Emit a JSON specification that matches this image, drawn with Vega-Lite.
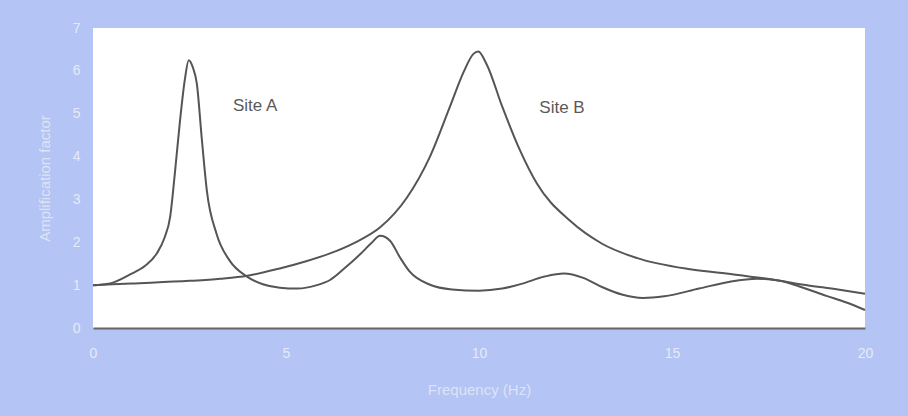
{
  "$schema": "https://vega.github.io/schema/vega-lite/v6.json",
  "width": 772,
  "height": 300,
  "autosize": {"type": "none"},
  "padding": {"left": 93, "top": 28, "right": 43, "bottom": 88},
  "background": "#b4c4f4",
  "config": {
    "view": {"fill": "white", "stroke": null},
    "font": "Liberation Sans"
  },
  "datasets": {
    "curves": [
      {"site": "A", "f": 0, "amp": 1.0},
      {"site": "A", "f": 0.44, "amp": 1.04},
      {"site": "A", "f": 0.96, "amp": 1.25},
      {"site": "A", "f": 1.35, "amp": 1.45},
      {"site": "A", "f": 1.66, "amp": 1.75},
      {"site": "A", "f": 1.85, "amp": 2.1},
      {"site": "A", "f": 2.0, "amp": 2.6},
      {"site": "A", "f": 2.12, "amp": 3.6},
      {"site": "A", "f": 2.25, "amp": 4.8},
      {"site": "A", "f": 2.38, "amp": 5.8},
      {"site": "A", "f": 2.48, "amp": 6.25},
      {"site": "A", "f": 2.58, "amp": 6.1},
      {"site": "A", "f": 2.69, "amp": 5.7},
      {"site": "A", "f": 2.82, "amp": 4.4},
      {"site": "A", "f": 2.95, "amp": 3.2},
      {"site": "A", "f": 3.2, "amp": 2.2},
      {"site": "A", "f": 3.55, "amp": 1.56},
      {"site": "A", "f": 3.99, "amp": 1.2},
      {"site": "A", "f": 4.4, "amp": 1.02},
      {"site": "A", "f": 4.84, "amp": 0.94},
      {"site": "A", "f": 5.3, "amp": 0.92},
      {"site": "A", "f": 5.8, "amp": 1.0},
      {"site": "A", "f": 6.14, "amp": 1.12},
      {"site": "A", "f": 6.5, "amp": 1.38},
      {"site": "A", "f": 6.92, "amp": 1.72},
      {"site": "A", "f": 7.2, "amp": 1.97},
      {"site": "A", "f": 7.44, "amp": 2.15},
      {"site": "A", "f": 7.7, "amp": 2.03},
      {"site": "A", "f": 7.95, "amp": 1.65},
      {"site": "A", "f": 8.2, "amp": 1.32},
      {"site": "A", "f": 8.73, "amp": 1.01},
      {"site": "A", "f": 9.3, "amp": 0.9},
      {"site": "A", "f": 10.0, "amp": 0.87},
      {"site": "A", "f": 10.6, "amp": 0.92},
      {"site": "A", "f": 11.1, "amp": 1.03},
      {"site": "A", "f": 11.7, "amp": 1.2},
      {"site": "A", "f": 12.2, "amp": 1.27},
      {"site": "A", "f": 12.7, "amp": 1.17},
      {"site": "A", "f": 13.2, "amp": 0.95},
      {"site": "A", "f": 13.7, "amp": 0.78},
      {"site": "A", "f": 14.25, "amp": 0.7},
      {"site": "A", "f": 14.8, "amp": 0.74},
      {"site": "A", "f": 15.7, "amp": 0.92},
      {"site": "A", "f": 16.5, "amp": 1.08},
      {"site": "A", "f": 17.2, "amp": 1.15},
      {"site": "A", "f": 17.8, "amp": 1.1},
      {"site": "A", "f": 18.3, "amp": 0.97},
      {"site": "A", "f": 19.0, "amp": 0.75},
      {"site": "A", "f": 19.5, "amp": 0.6},
      {"site": "A", "f": 20, "amp": 0.42},
      {"site": "B", "f": 0, "amp": 1.0},
      {"site": "B", "f": 1.0, "amp": 1.04},
      {"site": "B", "f": 2.5, "amp": 1.1},
      {"site": "B", "f": 3.3, "amp": 1.15},
      {"site": "B", "f": 4.0, "amp": 1.22},
      {"site": "B", "f": 4.84, "amp": 1.39},
      {"site": "B", "f": 5.5, "amp": 1.55},
      {"site": "B", "f": 6.14, "amp": 1.74},
      {"site": "B", "f": 6.8, "amp": 2.0},
      {"site": "B", "f": 7.44, "amp": 2.35},
      {"site": "B", "f": 8.13, "amp": 3.04},
      {"site": "B", "f": 8.73, "amp": 4.0},
      {"site": "B", "f": 9.25, "amp": 5.17},
      {"site": "B", "f": 9.6, "amp": 5.97},
      {"site": "B", "f": 9.85, "amp": 6.39},
      {"site": "B", "f": 9.98, "amp": 6.45},
      {"site": "B", "f": 10.2, "amp": 6.15},
      {"site": "B", "f": 10.6, "amp": 5.17},
      {"site": "B", "f": 11.06, "amp": 4.15},
      {"site": "B", "f": 11.5, "amp": 3.37},
      {"site": "B", "f": 12.36, "amp": 2.5},
      {"site": "B", "f": 13.2, "amp": 1.96},
      {"site": "B", "f": 14.1, "amp": 1.63},
      {"site": "B", "f": 15.47, "amp": 1.37},
      {"site": "B", "f": 16.6, "amp": 1.25},
      {"site": "B", "f": 17.6, "amp": 1.13},
      {"site": "B", "f": 18.5, "amp": 1.0},
      {"site": "B", "f": 19.3, "amp": 0.9},
      {"site": "B", "f": 20, "amp": 0.8}
    ],
    "labels": [
      {"f": 4.2, "amp": 5.17, "text": "Site A"},
      {"f": 12.15, "amp": 5.14, "text": "Site B"}
    ]
  },
  "layer": [
    {
      "data": {"name": "curves"},
      "mark": {"type": "line", "interpolate": "monotone", "color": "#555555", "strokeWidth": 2},
      "encoding": {
        "x": {
          "field": "f",
          "type": "quantitative",
          "scale": {"domain": [0, 20], "nice": false},
          "axis": {
            "title": "Frequency (Hz)",
            "values": [0, 5, 10, 15, 20],
            "grid": false,
            "ticks": false,
            "domain": true,
            "domainColor": "#666666",
            "domainWidth": 2,
            "labelFlush": false,
            "labelColor": "#e6eaf8",
            "labelFontSize": 14,
            "labelPadding": 18,
            "titleColor": "#dde3f6",
            "titleFontSize": 15,
            "titleFontWeight": "normal",
            "titlePadding": 22
          }
        },
        "y": {
          "field": "amp",
          "type": "quantitative",
          "scale": {"domain": [0, 7], "nice": false},
          "axis": {
            "title": "Amplification factor",
            "values": [0, 1, 2, 3, 4, 5, 6, 7],
            "grid": false,
            "ticks": false,
            "domain": false,
            "labelColor": "#e6eaf8",
            "labelFontSize": 14,
            "labelPadding": 13,
            "titleColor": "#dde3f6",
            "titleFontSize": 15,
            "titleFontWeight": "normal",
            "titlePadding": 20
          }
        },
        "detail": {"field": "site"}
      }
    },
    {
      "mark": {"type": "rule", "color": "#666666", "strokeWidth": 2},
      "encoding": {"y": {"datum": 7}}
    },
    {
      "data": {"name": "labels"},
      "mark": {"type": "text", "fontSize": 17, "color": "#5a5a5a", "align": "center", "baseline": "middle"},
      "encoding": {
        "x": {"field": "f", "type": "quantitative"},
        "y": {"field": "amp", "type": "quantitative"},
        "text": {"field": "text"}
      }
    }
  ]
}
